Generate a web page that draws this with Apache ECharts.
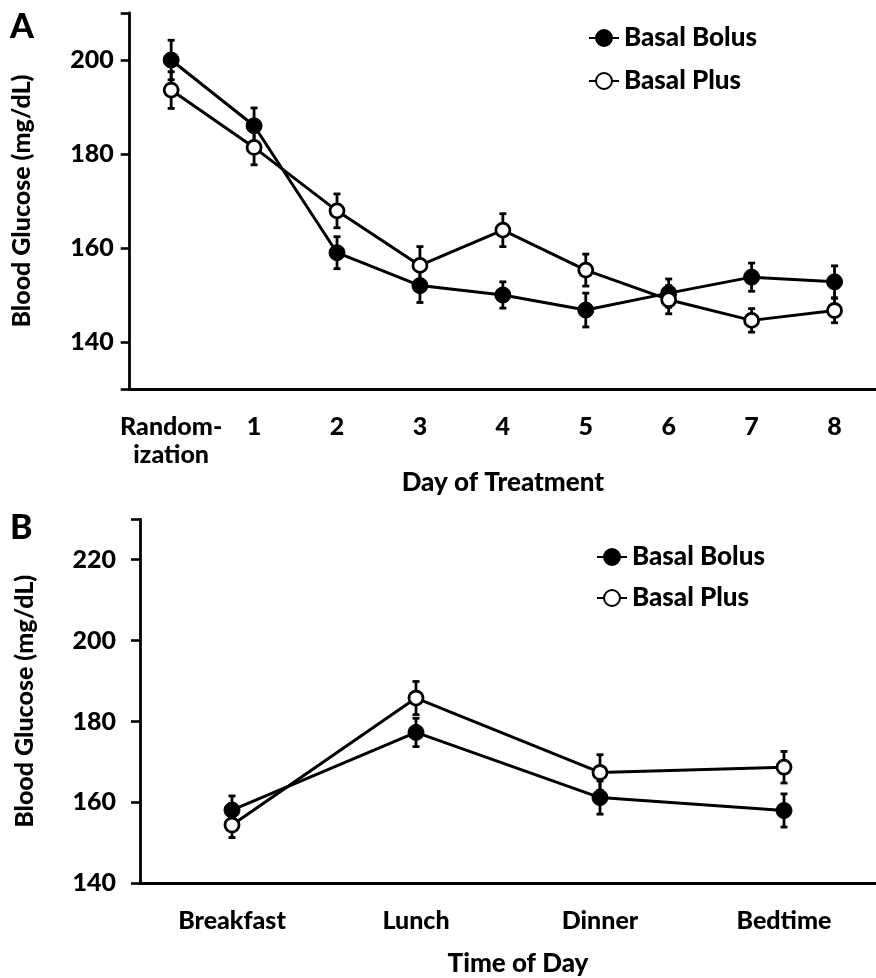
<!DOCTYPE html>
<html>
<head>
<meta charset="utf-8">
<script src="https://cdn.jsdelivr.net/npm/echarts@6/dist/echarts.min.js"></script>
<style>
html,body{margin:0;padding:0;background:#fff;}
#c{width:876px;height:978px;}
</style>
</head>
<body>
<div id="c"></div>
<script>
// ---- Panel A data ----
const dayLabels = ['Random-\nization', '1', '2', '3', '4', '5', '6', '7', '8'];
const bolusA    = [200, 186, 159, 152, 150, 146.8, 150.4, 153.8, 152.8];
const bolusAErr = [4.2, 3.8, 3.4, 3.6, 2.8, 3.6, 3.0, 3.0, 3.4];
const plusA     = [193.6, 181.4, 167.9, 156.3, 163.8, 155.3, 149.0, 144.6, 146.7];
const plusAErr  = [3.9, 3.7, 3.6, 4.0, 3.5, 3.4, 3.0, 2.5, 2.6];
const yTicksA   = [140, 160, 180, 200];

// ---- Panel B data ----
const timeLabels = ['Breakfast', 'Lunch', 'Dinner', 'Bedtime'];
const bolusB     = [158.1, 177.3, 161.2, 158.0];
const bolusBErr  = [3.5, 3.5, 4.1, 4.1];
const plusB      = [154.4, 185.8, 167.4, 168.7];
const plusBErr   = [3.1, 4.1, 4.4, 3.9];
const yTicksB    = [140, 160, 180, 200, 220];

const FONT = 'Lato';
const W = 900;
const chart = echarts.init(document.getElementById('c'));

function errData(vals, errs) {
  return vals.map((v, i) => [i, v - errs[i], v + errs[i]]);
}
function errRender(params, api) {
  const x = api.value(0);
  const lo = api.coord([x, api.value(1)]);
  const hi = api.coord([x, api.value(2)]);
  const cw = 3.5;
  const st = {stroke: '#000', lineWidth: 2.8};
  return {
    type: 'group',
    children: [
      {type: 'line', shape: {x1: lo[0], y1: lo[1], x2: hi[0], y2: hi[1]}, style: st},
      {type: 'line', shape: {x1: lo[0] - cw, y1: lo[1], x2: lo[0] + cw, y2: lo[1]}, style: st},
      {type: 'line', shape: {x1: hi[0] - cw, y1: hi[1], x2: hi[0] + cw, y2: hi[1]}, style: st}
    ]
  };
}

const axisLineStyle = {color: '#000', width: 2.8};
const labelStyle = {color: '#000', fontFamily: FONT, fontWeight: W, fontSize: 25};
const nameStyle = {color: '#000', fontFamily: FONT, fontWeight: W, fontSize: 25};

function lineSeries(name, data, xi, filled) {
  return {
    type: 'line', name: name, xAxisIndex: xi, yAxisIndex: xi * 2, data: data,
    symbol: 'circle', symbolSize: filled ? 16 : 14,
    lineStyle: {color: '#000', width: 3},
    itemStyle: filled ? {color: '#000', borderColor: '#000', borderWidth: 1}
                      : {color: '#fff', borderColor: '#000', borderWidth: 2.8},
    z: 5, animation: false, silent: true
  };
}
function errSeries(vals, errs, xi) {
  return {
    type: 'custom', xAxisIndex: xi, yAxisIndex: xi * 2, data: errData(vals, errs),
    renderItem: errRender, z: 3, animation: false, silent: true,
    encode: {x: 0, y: [1, 2]}
  };
}
function legendItem(name, left, top) {
  return {
    data: [name], left: left, top: top, orient: 'vertical', padding: 0,
    itemWidth: 30, itemHeight: 20, itemGap: 0,
    textStyle: {color: '#000', fontFamily: FONT, fontWeight: W, fontSize: 26, lineHeight: 28},
    selectedMode: false
  };
}

chart.setOption({
  backgroundColor: '#fff',
  animation: false,
  grid: [
    {left: 129.7, top: 13, width: 753.3, height: 376},
    {left: 140, top: 519.3, width: 741.3, height: 364}
  ],
  xAxis: [
    {
      type: 'category', gridIndex: 0, data: dayLabels, boundaryGap: true,
      name: 'Day of Treatment', nameLocation: 'middle', nameGap: 68,
      nameTextStyle: Object.assign({}, nameStyle, {fontSize: 26}),
      axisLine: {lineStyle: axisLineStyle},
      axisTick: {alignWithLabel: true, length: 6, lineStyle: {width: 2.6, color: '#000'}},
      axisLabel: Object.assign({margin: 24, lineHeight: 28, interval: 0}, labelStyle),
      splitLine: {show: false}
    },
    {
      type: 'category', gridIndex: 1, data: timeLabels, boundaryGap: true,
      name: 'Time of Day', nameLocation: 'middle', nameGap: 67,
      nameTextStyle: Object.assign({padding: [0, 0, 0, 20]}, nameStyle, {fontSize: 26}),
      axisLine: {lineStyle: axisLineStyle},
      axisTick: {alignWithLabel: true, length: 6, lineStyle: {width: 2.6, color: '#000'}},
      axisLabel: Object.assign({margin: 25, interval: 0}, labelStyle),
      splitLine: {show: false}
    }
  ],
  yAxis: [
    {
      type: 'value', gridIndex: 0, min: 130, max: 210,
      name: 'Blood Glucose (mg/dL)', nameLocation: 'middle', nameGap: 95, nameTextStyle: nameStyle,
      axisLine: {show: true, lineStyle: axisLineStyle},
      axisTick: {show: true, length: 9, customValues: [130, 140, 160, 180, 200, 210], lineStyle: {width: 2.6, color: '#000'}},
      axisLabel: Object.assign({margin: 16, customValues: yTicksA}, labelStyle),
      splitLine: {show: false}
    },
    {
      type: 'value', gridIndex: 0, min: 130, max: 210,
      axisLine: {show: false},
      axisTick: {show: true, length: 5, customValues: [150, 170, 190], lineStyle: {width: 2.6, color: '#000'}},
      axisLabel: {show: false}, splitLine: {show: false}
    },
    {
      type: 'value', gridIndex: 1, min: 140, max: 230,
      name: 'Blood Glucose (mg/dL)', nameLocation: 'middle', nameGap: 103, nameTextStyle: nameStyle,
      axisLine: {show: true, lineStyle: axisLineStyle},
      axisTick: {show: true, length: 9, customValues: [140, 160, 180, 200, 220, 230], lineStyle: {width: 2.6, color: '#000'}},
      axisLabel: Object.assign({margin: 24, customValues: yTicksB}, labelStyle),
      splitLine: {show: false}
    },
    {
      type: 'value', gridIndex: 1, min: 140, max: 230,
      axisLine: {show: false},
      axisTick: {show: true, length: 5, customValues: [150, 170, 190, 210], lineStyle: {width: 2.6, color: '#000'}},
      axisLabel: {show: false}, splitLine: {show: false}
    }
  ],
  legend: [
    legendItem('Basal Bolus', 588, 24),
    legendItem('Basal Plus ', 588, 67),
    legendItem('Basal Bolus', 596, 543),
    legendItem('Basal Plus ', 596, 584)
  ],
  graphic: [
    {type: 'text', left: 10, top: 10, style: {text: 'A', fill: '#000', font: '900 34px Lato'}},
    {type: 'text', left: 10, top: 511, style: {text: 'B', fill: '#000', font: '900 34px Lato'}}
  ],
  series: [
    errSeries(bolusA, bolusAErr, 0),
    errSeries(plusA, plusAErr, 0),
    lineSeries('Basal Bolus', bolusA, 0, true),
    lineSeries('Basal Plus ', plusA, 0, false),
    errSeries(bolusB, bolusBErr, 1),
    errSeries(plusB, plusBErr, 1),
    lineSeries('Basal Bolus', bolusB, 1, true),
    lineSeries('Basal Plus ', plusB, 1, false)
  ]
});
</script>
</body>
</html>
